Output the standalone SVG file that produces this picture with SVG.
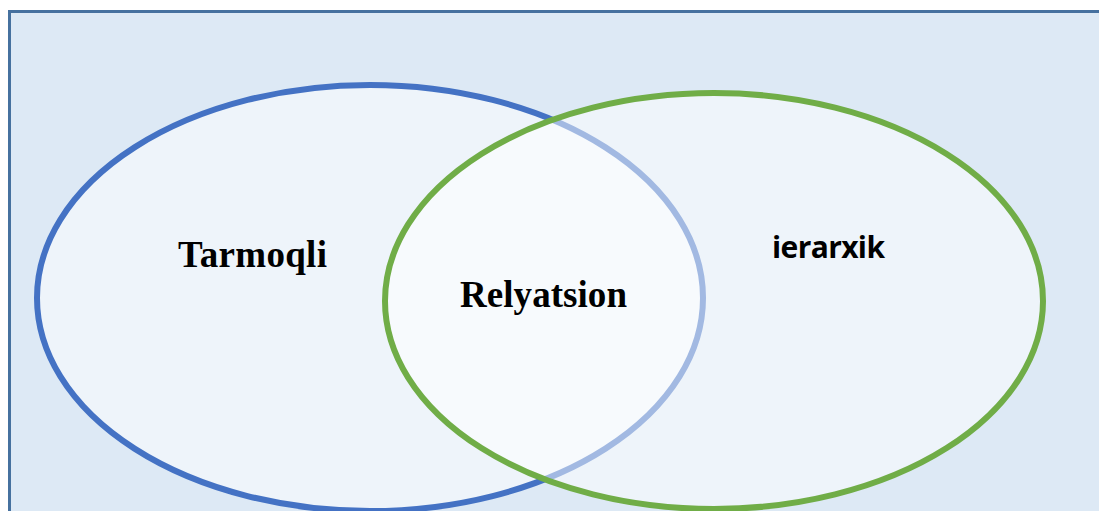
<svg xmlns="http://www.w3.org/2000/svg" width="1099" height="511" viewBox="0 0 1099 511">
<style>
.frame{fill:#dde9f5;stroke:#46719f;stroke-width:3}
.set{fill:#ffffff;fill-opacity:0.5;stroke-width:6}
.serif{font-family:"Liberation Serif","Times New Roman",serif;font-weight:bold;font-size:37px;fill:#000}
.sans{font-family:"Open Sans","Liberation Sans",sans-serif;font-weight:bold;font-size:30px;fill:#000}
</style>
<rect width="1099" height="511" fill="#ffffff"/>
<rect class="frame" x="9.5" y="11.5" width="1100" height="510"/>
<g id="tarmoqli">
<ellipse class="set" cx="370" cy="298" rx="333" ry="213" stroke="#4472c4"/>
<text class="serif" x="178" y="267" textLength="149">Tarmoqli</text>
</g>
<g id="ierarxik">
<ellipse class="set" cx="714" cy="301" rx="329" ry="208" stroke="#70ad47"/>
<text class="sans" x="772" y="258" textLength="113">ierarxik</text>
</g>
<g id="relyatsion">
<text class="serif" x="460" y="307" textLength="167">Relyatsion</text>
</g>
<g id="connectors"/>
</svg>
